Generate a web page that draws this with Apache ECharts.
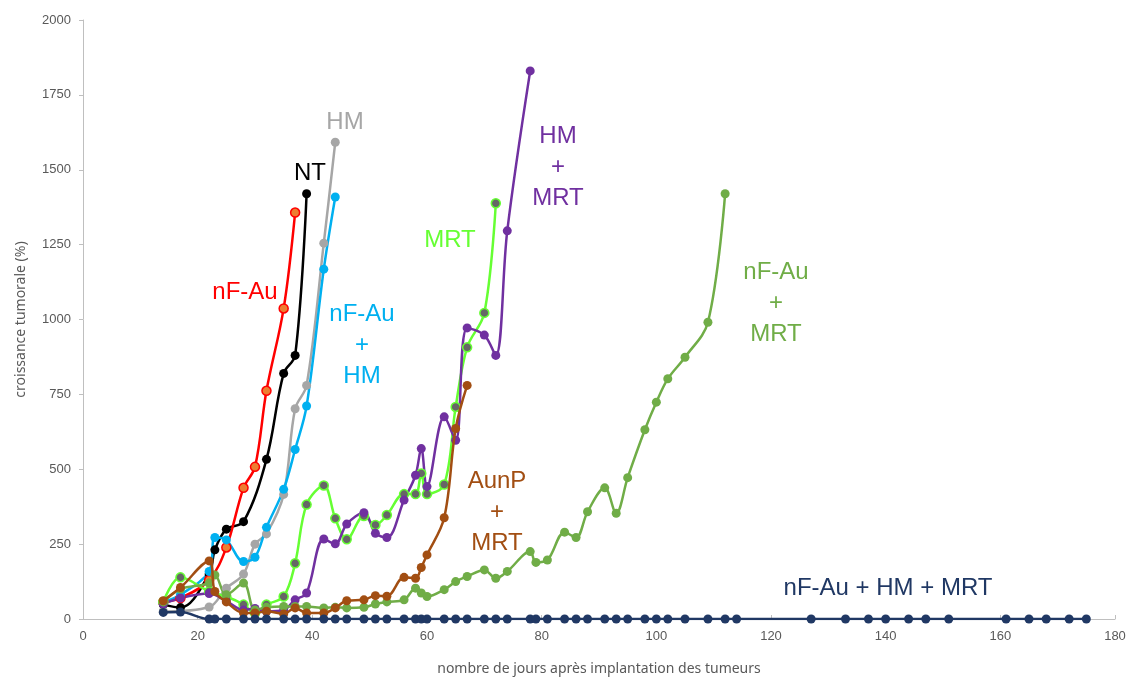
<!DOCTYPE html>
<html>
<head>
<meta charset="utf-8">
<script src="https://cdn.jsdelivr.net/npm/echarts@6/dist/echarts.min.js"></script>
<style>html,body{margin:0;padding:0;background:#fff}#c{width:1138px;height:681px}</style>
</head>
<body>
<div id="c"></div>
<script>
// ---- data: [day, tumour growth %] ----
const NT = [[14,48],[17,38],[22,150],[23,231],[25,300],[28,325],[32,533],[35,820],[37,880],[39,1420]];
const NFAU = [[14,57],[17,70],[22,130],[25,239],[28,438],[30,508],[32,762],[35,1037],[37,1357]];
const HM = [[14,25],[22,40],[25,103],[28,150],[30,250],[32,284],[35,416],[37,702],[39,780],[42,1255],[44,1592]];
const NFAU_HM = [[14,57],[17,81],[22,159],[23,272],[25,264],[28,192],[30,206],[32,306],[35,433],[37,566],[39,711],[42,1168],[44,1409]];
const MRT = [[14,57],[17,139],[22,92],[25,75],[28,48],[30,20],[32,48],[35,75],[37,186],[39,382],[42,446],[44,336],[46,266],[49,344],[51,314],[53,347],[56,417],[58,417],[59,486],[60,417],[63,449],[65,708],[67,907],[70,1022],[72,1388]];
const HM_MRT = [[14,50],[17,70],[22,85],[25,60],[28,30],[30,35],[32,25],[35,30],[37,64],[39,87],[42,267],[44,251],[46,317],[49,355],[51,286],[53,272],[56,397],[58,480],[59,569],[60,442],[63,675],[65,597],[67,972],[70,948],[72,880],[74,1296],[78,1830]];
const AUNP_MRT = [[14,61],[17,105],[22,194],[23,92],[25,57],[28,20],[30,20],[32,26],[35,17],[37,37],[39,20],[42,20],[44,37],[46,61],[49,64],[51,78],[53,76],[56,139],[58,136],[59,172],[60,214],[63,338],[65,636],[67,780]];
const NFAU_MRT = [[14,57],[17,100],[22,120],[23,147],[25,81],[28,120],[30,30],[32,39],[35,42],[37,42],[39,42],[42,37],[44,39],[46,37],[49,39],[51,50],[53,57],[56,64],[58,103],[59,87],[60,75],[63,98],[65,125],[67,142],[70,164],[72,136],[74,159],[78,225],[79,189],[81,197],[84,290],[86,272],[88,358],[91,438],[93,353],[95,472],[98,632],[100,724],[102,802],[105,874],[109,991],[112,1420]];
const NFAU_HM_MRT = [[14,22],[17,23],[22,0],[23,0],[25,0],[28,0],[30,0],[32,0],[35,0],[37,0],[39,0],[42,0],[44,0],[46,0],[49,0],[51,0],[53,0],[56,0],[58,0],[59,0],[60,0],[63,0],[65,0],[67,0],[70,0],[72,0],[74,0],[78,0],[79,0],[81,0],[84,0],[86,0],[88,0],[91,0],[93,0],[95,0],[98,0],[100,0],[102,0],[105,0],[109,0],[112,0],[114,0],[127,0],[133,0],[137,0],[140,0],[144,0],[147,0],[151,0],[161,0],[165,0],[168,0],[172,0],[175,0]];

const FONT = 'Liberation Sans';
function mk(name, data, line, fill, border, z){
  return {
    name, type:'line', data, smooth:0.35, symbol:'circle', symbolSize:9, z:z||2,
    lineStyle:{color:line, width:2.5},
    itemStyle:{color:fill, borderColor:border||fill, borderWidth:border?1.5:0},
    emphasis:{disabled:true}
  };
}
const chart = echarts.init(document.getElementById('c'), null, {renderer:'canvas'});
chart.setOption({
  animation:false,
  backgroundColor:'#fff',
  grid:{left:83, right:23, top:20, bottom:60},
  xAxis:{type:'value', min:0, max:180, interval:20,
    name:'nombre de jours après implantation des tumeurs', nameLocation:'middle', nameGap:43,
    nameTextStyle:{color:'#595959', fontSize:14, fontFamily:'Noto Sans'},
    axisLine:{lineStyle:{color:'#BFBFBF'}},
    axisTick:{show:true, inside:true, length:4, lineStyle:{color:'#BFBFBF'}},
    axisLabel:{color:'#595959', fontSize:13, margin:11},
    splitLine:{show:false}},
  yAxis:{type:'value', min:0, max:2000, interval:250,
    name:'croissance tumorale (%)', nameLocation:'middle', nameGap:55,
    nameTextStyle:{color:'#595959', fontSize:14, fontFamily:'Noto Sans'},
    axisLine:{show:true, lineStyle:{color:'#BFBFBF'}},
    axisTick:{show:true, length:4, lineStyle:{color:'#BFBFBF'}},
    axisLabel:{color:'#595959', fontSize:13, margin:12, formatter:function(v){return String(v);}},
    splitLine:{show:false}},
  series:[
    mk('NT', NT, '#000000', '#000000'),
    mk('nF-Au', NFAU, '#FF0000', '#ED7D31', '#FF0000'),
    mk('HM', HM, '#A6A6A6', '#A6A6A6'),
    mk('nF-Au + HM', NFAU_HM, '#00B0F0', '#00B0F0'),
    mk('MRT', MRT, '#66FF33', '#666666', '#66FF33'),
    mk('HM + MRT', HM_MRT, '#7030A0', '#7030A0'),
    mk('nF-Au + MRT', NFAU_MRT, '#70AD47', '#70AD47'),
    mk('AunP + MRT', AUNP_MRT, '#A24E12', '#A24E12', null, 3),
    mk('nF-Au + HM + MRT', NFAU_HM_MRT, '#203864', '#203864', null, 4)
  ],
  graphic:[
    {type:'text', x:345, y:122, style:{text:'HM', fill:'#A6A6A6', font:'24px '+FONT, textAlign:'center', textVerticalAlign:'middle'}},
    {type:'text', x:310, y:173, style:{text:'NT', fill:'#000000', font:'24px '+FONT, textAlign:'center', textVerticalAlign:'middle'}},
    {type:'text', x:245, y:292, style:{text:'nF-Au', fill:'#FF0000', font:'24px '+FONT, textAlign:'center', textVerticalAlign:'middle'}},
    {type:'text', x:362, y:345, style:{text:'nF-Au\n+\nHM', fill:'#00B0F0', font:'24px '+FONT, lineHeight:31, textAlign:'center', textVerticalAlign:'middle'}},
    {type:'text', x:450, y:240, style:{text:'MRT', fill:'#66FF33', font:'24px '+FONT, textAlign:'center', textVerticalAlign:'middle'}},
    {type:'text', x:558, y:167, style:{text:'HM\n+\nMRT', fill:'#7030A0', font:'24px '+FONT, lineHeight:31, textAlign:'center', textVerticalAlign:'middle'}},
    {type:'text', x:776, y:303, style:{text:'nF-Au\n+\nMRT', fill:'#70AD47', font:'24px '+FONT, lineHeight:31, textAlign:'center', textVerticalAlign:'middle'}},
    {type:'text', x:497, y:512, style:{text:'AunP\n+\nMRT', fill:'#A24E12', font:'24px '+FONT, lineHeight:31, textAlign:'center', textVerticalAlign:'middle'}},
    {type:'text', x:888, y:588, style:{text:'nF-Au + HM + MRT', fill:'#203864', font:'24px '+FONT, textAlign:'center', textVerticalAlign:'middle'}}
  ]
});
</script>
</body>
</html>
